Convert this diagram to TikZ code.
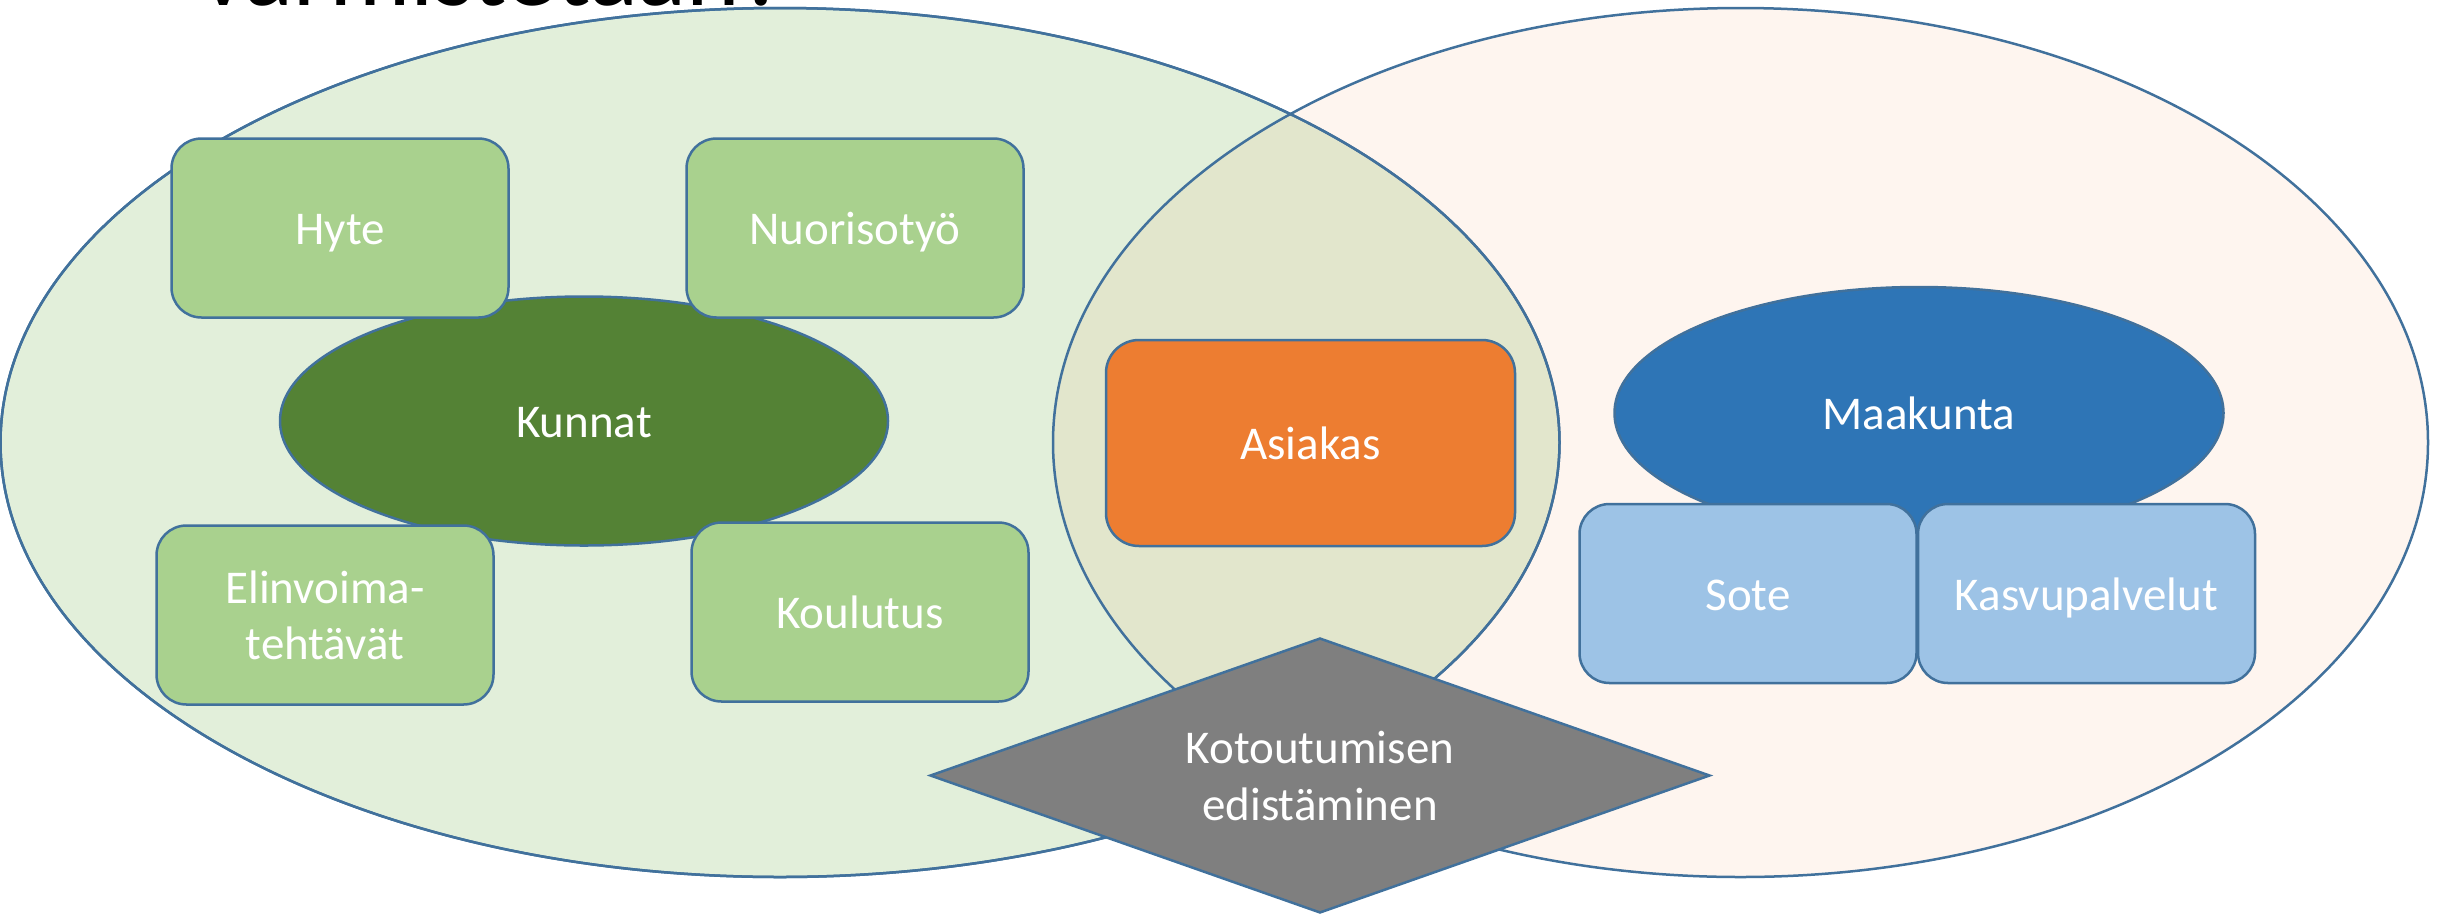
\documentclass[tikz,border=0pt]{standalone}
\usepackage{fontspec}
\setmainfont{Carlito}
\usetikzlibrary{shapes.geometric}
\definecolor{edgeblue}{HTML}{41719C}
\definecolor{leftfill}{HTML}{E2EFDA}
\definecolor{orangefill}{HTML}{ED7D31}
\definecolor{kunnatfill}{HTML}{548235}
\definecolor{greenbox}{HTML}{A9D18E}
\definecolor{maakuntafill}{HTML}{2E75B6}
\definecolor{bluebox}{HTML}{9DC3E6}
\definecolor{greyfill}{HTML}{7F7F7F}
\begin{document}
\begin{tikzpicture}[x=1pt,y=-1pt,
  shp/.style={draw=edgeblue,line width=2.5pt,inner sep=0pt,text=white,
    font=\fontsize{47}{56}\selectfont,align=center},
  oneline/.style={text height=33pt,text depth=0pt},
  rbox/.style={shp,rectangle,rounded corners=30pt,minimum width=337pt,minimum height=179pt},
  greenrbox/.style={rbox,fill=greenbox},
  bluerbox/.style={rbox,fill=bluebox},
  oval/.style={shp,ellipse}]
\useasboundingbox (0,0) rectangle (2447,914);
% title (cut by the page edge, as in the reference)
\node[anchor=base west,inner sep=0pt,text=black,font=\fontsize{102}{114}\selectfont] (title) at (200,5) {varmistetaan?};
% big ellipses
\node[oval,fill=leftfill,minimum width=1559pt,minimum height=869pt] (left) at (780,442.5) {};
\node[oval,fill=orangefill,fill opacity=0.08,minimum width=1375pt,minimum height=869pt] (right) at (1740.5,442.5) {};
\node[oval,draw=edgeblue,fill=none,minimum width=1559pt,minimum height=869pt] (leftline) at (780,442.5) {};
% Kunnat group
\node[oval,oneline,fill=kunnatfill,minimum width=608pt,minimum height=249pt] (kunnat) at (584,421) {Kunnat};
\node[greenrbox,oneline] (hyte) at (340,228) {Hyte};
\node[greenrbox,oneline] (nuoriso) at (855,228) {Nuorisotyö};
\node[greenrbox] (elinvoima) at (325,615) {Elinvoima-\\tehtävät};
\node[greenrbox,oneline] (koulutus) at (860,612) {Koulutus};
% Asiakas
\node[shp,oneline,rectangle,rounded corners=33pt,fill=orangefill,minimum width=409pt,minimum height=206pt] (asiakas) at (1310.5,443) {Asiakas};
% Maakunta group
\node[oval,oneline,fill=maakuntafill,minimum width=609pt,minimum height=252pt] (maakunta) at (1919,413) {Maakunta};
\node[bluerbox,oneline] (sote) at (1748,593.5) {Sote};
\node[bluerbox,oneline] (kasvu) at (2086.5,593.5) {Kasvupalvelut};
% diamond
\node[shp,diamond,fill=greyfill,aspect=2.836,minimum width=780pt,minimum height=275pt,font=\fontsize{47}{57}\selectfont] (koto) at (1320,775.5) {Kotoutumisen\\edistäminen};
\end{tikzpicture}
\end{document}
